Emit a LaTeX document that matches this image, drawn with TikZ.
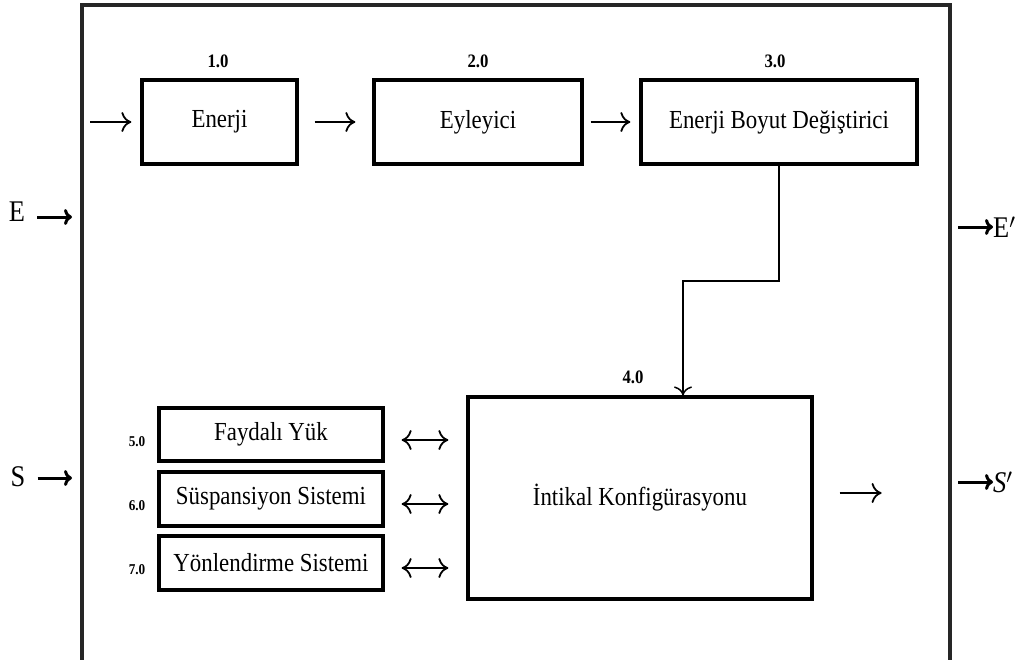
\documentclass[tikz,border=0pt]{standalone}
\usepackage{fontspec}
\setmainfont{Liberation Serif}[FakeStretch=0.88]
\usetikzlibrary{arrows.meta}
\begin{document}
\begin{tikzpicture}[x=1pt,y=-1pt,
  box/.style={draw,line width=3.2pt,inner sep=0pt,font=\fontsize{26}{30}\selectfont},
  numlbl/.style={inner sep=0pt,font=\bfseries\fontsize{19}{22}\selectfont},
  smalllbl/.style={inner sep=0pt,font=\bfseries\fontsize{15}{17}\selectfont},
  biglbl/.style={inner sep=0pt,font=\fontsize{30}{34}\selectfont},
  arr/.style={line width=1.8pt,-{To[length=10pt,width=20pt,line width=1.8pt]}},
  darr/.style={line width=1.8pt,{To[length=10pt,width=20pt,line width=1.8pt]}-{To[length=10pt,width=20pt,line width=1.8pt]}},
  arrb/.style={line width=3pt,-{To[length=8pt,width=16pt,line width=3pt]}},
  conn/.style={line width=1.5pt,-{To[length=9pt,width=18pt,line width=1.5pt]}},
  framestyle/.style={line width=3.2pt,draw=black!85}]
\clip (0,0) rectangle (1020,659);
% outer frame (open at the bottom)
\draw[framestyle] (82,680) -- (82,5) -- (950,5) -- (950,680);
% top row
\node[box,minimum width=155pt,minimum height=84pt] (b1) at (219.5,122) {Enerji};
\node[box,minimum width=208pt,minimum height=84pt] (b2) at (478,122) {Eyleyici};
\node[box,minimum width=276pt,minimum height=84pt] (b3) at (779,122) {Enerji Boyut Değiştirici};
\node[numlbl] (n1) at (218,61) {1.0};
\node[numlbl] (n2) at (478,61) {2.0};
\node[numlbl] (n3) at (775,61) {3.0};
\coordinate (in1) at (90,122);
\draw[arr,shorten >=9pt] (in1) -- (b1);
\draw[arr,shorten <=16pt,shorten >=17pt] (b1) -- (b2);
\draw[arr,shorten <=7pt,shorten >=9pt] (b2) -- (b3);
% main box
\node[box,minimum width=344pt,minimum height=202pt] (b4) at (640,498) {İntikal Konfigürasyonu};
\node[numlbl] (n4) at (633,377) {4.0};
\coordinate (bend) at (683,281);
\draw[conn] (b3.south) |- (bend) -- (bend |- b4.north);
% sub boxes
\node[box,minimum width=224pt,minimum height=53pt] (s5) at (271,434.5) {Faydalı Yük};
\node[box,minimum width=224pt,minimum height=54pt] (s6) at (271,499) {Süspansiyon Sistemi};
\node[box,minimum width=224pt,minimum height=54pt] (s7) at (271,563) {Yönlendirme Sistemi};
\node[smalllbl] (l5) at (137,442) {5.0};
\node[smalllbl] (l6) at (137,506) {6.0};
\node[smalllbl] (l7) at (137,570) {7.0};
\coordinate (y5) at (0,440);
\coordinate (y6) at (0,504);
\coordinate (y7) at (0,568);
\draw[darr,shorten <=17pt,shorten >=18pt] (s5.east |- y5) -- (b4.west |- y5);
\draw[darr,shorten <=17pt,shorten >=18pt] (s6.east |- y6) -- (b4.west |- y6);
\draw[darr,shorten <=17pt,shorten >=18pt] (s7.east |- y7) -- (b4.west |- y7);
\coordinate (yo) at (0,493);
\draw[arr,shorten <=26pt] (b4.east |- yo) -- ++(68,0);
% inputs and outputs
\node[biglbl] (E) at (17,212) {E};
\node[biglbl] (S) at (18,477) {S};
\coordinate (Eend) at (72,217);
\coordinate (Send) at (72,478);
\draw[arrb,shorten <=12pt] (E.east |- Eend) -- (Eend);
\draw[arrb,shorten <=12pt] (S.east |- Send) -- (Send);
\node[biglbl,anchor=west] (Ep) at (993,227) {E$'$};
\node[biglbl,anchor=west] (Sp) at (993,482) {\itshape S$'$};
\coordinate (Eo) at (958,227);
\coordinate (So) at (958,482);
\draw[arrb] (Eo) -- (Eo -| Ep.west);
\draw[arrb] (So) -- (So -| Sp.west);
\end{tikzpicture}
\end{document}
